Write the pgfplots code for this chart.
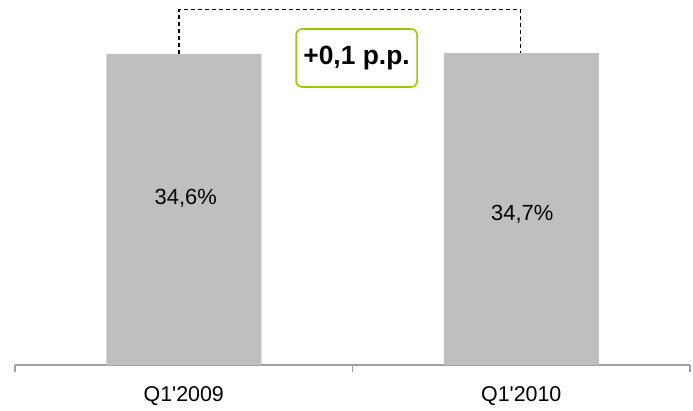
\documentclass[border=0pt]{standalone}
\usepackage{pgfplots}
\pgfplotsset{compat=1.18}
\usepackage{fontspec}
\setmainfont{Liberation Sans}
\definecolor{barcol}{HTML}{BFBFBF}
\definecolor{boxgreen}{HTML}{99CC00}
\definecolor{axcol}{HTML}{A0A0A0}
\begin{document}
\begin{tikzpicture}
\begin{axis}[
    scale only axis,
    width=675bp, height=365bp,
    xmin=-0.5, xmax=1.5,
    ymin=0, ymax=40.6,
    axis y line=none,
    axis x line*=bottom,
    x axis line style={draw=axcol, line width=1.2pt, -},
    xtick={0,1},
    xticklabels={Q1\textquotesingle 2009, Q1\textquotesingle 2010},
    major tick length=0pt,
    minor xtick={-0.5,0.5,1.5},
    minor tick length=7bp,
    tick align=outside,
    minor tick style={draw=axcol, line width=1.2pt},
    xticklabel style={font=\fontsize{21.5}{25}\selectfont, anchor=center, yshift=-31bp},
    ybar, bar width=155bp,
    clip=false,
]
\addplot[fill=barcol, draw=none] coordinates {(0,34.6) (1,34.7)};
\node[font=\fontsize{22}{26}\selectfont] at (axis cs:0,18.5) [xshift=2bp] {34,6\%};
\node[font=\fontsize{22}{26}\selectfont] at (axis cs:1,16.8) [xshift=1bp] {34,7\%};
\draw[dash pattern=on 4bp off 3bp, line width=1.1pt] (axis cs:-0.014,34.6) -- (axis cs:-0.014,39.5) -- (axis cs:0.9985,39.5) -- (axis cs:0.9985,34.7);
\node[draw=boxgreen, fill=white, line width=1.6bp, rounded corners=6bp,
      minimum width=121bp, minimum height=58bp, inner sep=0pt,
      font=\bfseries\fontsize{26.5}{30}\selectfont] at (axis cs:0.512,34.15) {+0,1 p.p.};
\end{axis}
\pgfresetboundingbox
\path[use as bounding box] (current axis.south west) ++(-15bp,-46bp) rectangle ([xshift=3bp]current axis.north east);
\end{tikzpicture}
\end{document}
